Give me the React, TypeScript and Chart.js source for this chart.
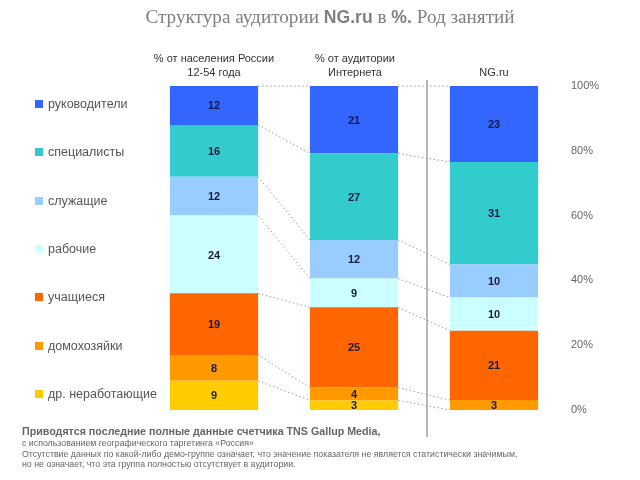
import React, { useEffect, useRef } from "react";
import { Chart, registerables } from "chart.js";

Chart.register(...registerables);

const columnHeaders: string[][] = [
  ["% от населения России", "12-54 года"],
  ["% от аудитории", "Интернета"],
  ["", "NG.ru"],
];
const columns = ["Россия 12-54", "Интернет", "NG.ru"];
const groups = [
  "руководители",
  "специалисты",
  "служащие",
  "рабочие",
  "учащиеся",
  "домохозяйки",
  "др. неработающие",
];
const russia = [12, 16, 12, 24, 19, 8, 9];
const internet = [21, 27, 12, 9, 25, 4, 3];
const ngru = [23, 31, 10, 10, 21, 3, 0];
const colors = ["#3366FF", "#33CCCC", "#99CCFF", "#CCFFFF", "#FF6600", "#FF9900", "#FFCC00"];
const yTicks = [0, 20, 40, 60, 80, 100];

const footBold = "Приводятся последние полные данные счетчика TNS Gallup Media,";
const footLines = [
  "с использованием географического таргетинга «Россия»",
  "Отсутствие данных по какой-либо демо-группе означает, что значение показателя не является статистически значимым,",
  "но не означает, что эта группа  полностью отсутствует в аудитории.",
];

const raw = [russia, internet, ngru];
const totals = raw.map((a) => a.reduce((s, v) => s + v, 0));

export default function App() {
  const ref = useRef<HTMLCanvasElement | null>(null);

  useEffect(() => {
    if (!ref.current) return;
    // datasets bottom-first
    const order = groups.map((_, i) => i).reverse();
    const datasets = order.map((g) => ({
      label: groups[g],
      data: raw.map((col, c) => (col[g] / totals[c]) * 100),
      rawValues: raw.map((col) => col[g]),
      backgroundColor: colors[g],
      borderWidth: 0,
      barPercentage: 0.63,
      categoryPercentage: 1,
    }));

    const overlay = {
      id: "overlay",
      afterDatasetsDraw(chart: any) {
        const ctx = chart.ctx;
        const n = chart.data.datasets.length;
        ctx.save();
        // dotted connectors
        ctx.strokeStyle = "#9a9a9a";
        ctx.lineWidth = 1;
        ctx.setLineDash([1.5, 2.5]);
        for (let d = 0; d < n; d++) {
          const meta = chart.getDatasetMeta(d);
          for (let i = 0; i < meta.data.length - 1; i++) {
            const a: any = meta.data[i];
            const b: any = meta.data[i + 1];
            ctx.beginPath();
            ctx.moveTo(a.x + a.width / 2, a.y);
            ctx.lineTo(b.x - b.width / 2, b.y);
            ctx.stroke();
          }
        }
        ctx.setLineDash([]);
        // separator
        const xs = chart.scales.x;
        const sx = (xs.getPixelForValue(1) + xs.getPixelForValue(2)) / 2 + 3;
        ctx.strokeStyle = "#a0a0a0";
        ctx.lineWidth = 1.5;
        ctx.beginPath();
        ctx.moveTo(sx, chart.chartArea.top - 6);
        ctx.lineTo(sx, chart.chartArea.bottom + 27);
        ctx.stroke();
        // labels
        ctx.font = "bold 11px 'Liberation Sans', Arial, sans-serif";
        ctx.textAlign = "center";
        ctx.textBaseline = "middle";
        ctx.fillStyle = "#1a1a40";
        for (let d = 0; d < n; d++) {
          const ds: any = chart.data.datasets[d];
          const meta = chart.getDatasetMeta(d);
          meta.data.forEach((el: any, i: number) => {
            const v = ds.rawValues[i];
            if (!v) return;
            ctx.fillText(String(v), el.x, (el.y + el.base) / 2 + 1);
          });
        }
        ctx.restore();
      },
    };

    const chart = new Chart(ref.current, {
      type: "bar",
      data: { labels: columns, datasets: datasets as any },
      options: {
        animation: false,
        responsive: false,
        maintainAspectRatio: false,
        layout: { padding: { left: 144, top: 86, bottom: 70, right: 0 } },
        plugins: { legend: { display: false }, tooltip: { enabled: false } },
        scales: {
          x: { stacked: true, display: false },
          y: {
            stacked: true,
            position: "right",
            min: 0,
            max: 100,
            afterBuildTicks: (scale: any) => {
              scale.ticks = yTicks.map((v) => ({ value: v }));
            },
            afterFit: (scale: any) => {
              scale.width = 76;
            },
            grid: { display: false, drawTicks: false },
            border: { display: false },
            ticks: {
              padding: 7,
              color: "#666",
              font: { size: 11, family: "'Liberation Sans', Arial, sans-serif" },
              callback: (v: any) => v + "%",
            },
          },
        },
      },
      plugins: [overlay],
    });
    return () => chart.destroy();
  }, []);

  const sans = "'Liberation Sans', Arial, sans-serif";
  const centers = [214, 355, 494];

  return (
    <div style={{ position: "fixed", left: 0, top: 0, width: 640, height: 480, background: "#fff", overflow: "hidden" }}>
      <canvas ref={ref} width={640} height={480} style={{ position: "absolute", left: 0, top: 0, width: 640, height: 480 }} />
      <div
        style={{
          position: "absolute",
          left: 0,
          width: 660,
          top: 6,
          textAlign: "center",
          fontFamily: "'Liberation Serif', 'Times New Roman', serif",
          fontSize: 19.2,
          color: "#808080",
          whiteSpace: "nowrap",
        }}
      >
        Структура аудитории <b style={{ fontFamily: sans, fontSize: 17.6 }}>NG.ru</b> в{" "}
        <b style={{ fontFamily: sans, fontSize: 17.6 }}>%.</b> Род занятий
      </div>
      {columnHeaders.map((h, i) => (
        <div
          key={i}
          style={{
            position: "absolute",
            left: centers[i] - 80,
            width: 160,
            top: 51,
            textAlign: "center",
            fontFamily: sans,
            fontSize: 11,
            lineHeight: "14px",
            color: "#333",
          }}
        >
          <div style={{ height: 14 }}>{h[0]}</div>
          <div>{h[1]}</div>
        </div>
      ))}
      {groups.map((g, i) => (
        <div
          key={g}
          style={{
            position: "absolute",
            left: 35,
            top: 96 + i * 48.3,
            height: 16,
            display: "flex",
            alignItems: "center",
            fontFamily: sans,
            fontSize: 12.5,
            color: "#555",
            whiteSpace: "nowrap",
          }}
        >
          <span style={{ display: "inline-block", width: 8, height: 8, background: colors[i], marginRight: 5 }} />
          {g}
        </div>
      ))}
      <div style={{ position: "absolute", left: 22, top: 424, fontFamily: sans, color: "#666", whiteSpace: "nowrap" }}>
        <div style={{ fontSize: 10.7, fontWeight: "bold", lineHeight: "14px" }}>{footBold}</div>
        {footLines.map((l, i) => (
          <div key={i} style={{ fontSize: 8.8, lineHeight: "10.5px" }}>
            {l}
          </div>
        ))}
      </div>
    </div>
  );
}
